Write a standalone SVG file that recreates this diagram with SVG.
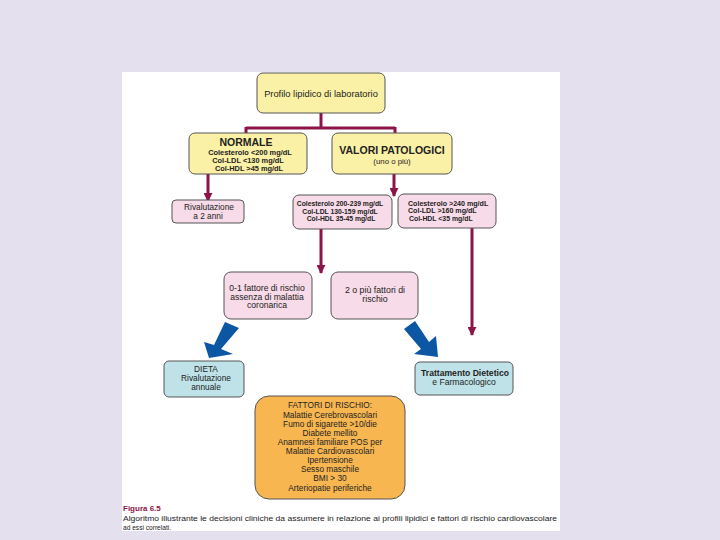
<svg xmlns="http://www.w3.org/2000/svg" width="720" height="540" viewBox="0 0 720 540">
<defs>
<style>
.b{stroke:#555;stroke-width:1}
.y{fill:#fbf1a6}
.p{fill:#f8dbe8}
.c{fill:#bfe2e8}
.o{fill:#f8b651}
text{font-family:"Liberation Sans",Arial,sans-serif;fill:#222;text-anchor:middle}
.s{font-size:8.3px}
.t{font-size:7.8px;font-weight:bold}
.h{font-size:10.5px;font-weight:bold}
.con{stroke:#8c1449;stroke-width:3;fill:none}
</style>
<marker id="ah" viewBox="0 0 10 10" refX="9" refY="5" markerWidth="3" markerHeight="3" orient="auto" markerUnits="strokeWidth">
<path d="M0,0 L10,5 L0,10 z" fill="#8c1449"/>
</marker>
</defs>
<rect width="720" height="540" fill="#e5e0ed"/>
<rect x="122" y="72" width="438" height="459" fill="#ffffff"/>

<g id="connectors">
<path class="con" d="M321,113 V128 M246,128 H395 M246,127 V134 M395,127 V134"/>
<path class="con" d="M208,174 V201" marker-end="url(#ah)"/>
<path class="con" d="M394,174 V196" marker-end="url(#ah)"/>
<path class="con" d="M321,229 V273" marker-end="url(#ah)"/>
<path class="con" d="M472,228 V335" marker-end="url(#ah)"/>
<polygon fill="#0b57a4" points="225,322 239,328 221,349 233,354 209,358 204,342 214,345"/>
<polygon fill="#0b57a4" points="404,329 415,321 429,342 436,336 438,357 414,354 421,349"/>
</g>

<g id="n-profilo">
<rect class="b y" x="257" y="73" width="128" height="40" rx="6"/>
<text x="321" y="97" style="font-size:9.3px">Profilo lipidico di laboratorio</text>
</g>

<g id="n-normale">
<rect class="b y" x="189" y="133" width="118" height="41" rx="6"/>
<text class="h" x="246" y="146">NORMALE</text>
<text class="t" x="250" y="155" style="font-size:7.4px">Colesterolo &lt;200 mg/dL</text>
<text class="t" x="248" y="163" style="font-size:7.4px">Col-LDL &lt;130 mg/dL</text>
<text class="t" x="249" y="171" style="font-size:7.4px">Col-HDL &gt;45 mg/dL</text>
</g>

<g id="n-valori">
<rect class="b y" x="332" y="133" width="120" height="41" rx="6"/>
<text class="h" x="392" y="154">VALORI PATOLOGICI</text>
<text x="392" y="163.5" style="font-size:7.8px">(uno o più)</text>
</g>

<g id="n-rival2">
<rect class="b p" x="172" y="200" width="72" height="23" rx="4"/>
<text class="s" x="209" y="210">Rivalutazione</text>
<text class="s" x="208" y="218.5">a 2 anni</text>
</g>

<g id="n-border">
<rect class="b p" x="293" y="195" width="99" height="34" rx="6"/>
<text class="t" x="340" y="206" style="font-size:6.8px">Colesterolo 200-239 mg/dL</text>
<text class="t" x="340" y="213.7" style="font-size:6.8px">Col-LDL 130-159 mg/dL</text>
<text class="t" x="341" y="221.4" style="font-size:6.8px">Col-HDL 35-45 mg/dL</text>
</g>

<g id="n-alto">
<rect class="b p" x="398" y="194" width="98" height="34" rx="6"/>
<text class="t" x="408" y="205.5" style="font-size:7.1px;text-anchor:start">Colesterolo &gt;240 mg/dL</text>
<text class="t" x="408" y="213.3" style="font-size:7.1px;text-anchor:start">Col-LDL &gt;160 mg/dL</text>
<text class="t" x="409" y="221.1" style="font-size:6.9px;text-anchor:start">Col-HDL &lt;35 mg/dL</text>
</g>

<g id="n-01">
<rect class="b p" x="224" y="272" width="88" height="47" rx="7"/>
<text x="267" y="291" style="font-size:8.6px">0-1 fattore di rischio</text>
<text x="267" y="299.5" style="font-size:8.6px">assenza di malattia</text>
<text x="267" y="308" style="font-size:8.6px">coronarica</text>
</g>

<g id="n-2">
<rect class="b p" x="331" y="272" width="87" height="47" rx="7"/>
<text x="375" y="293" style="font-size:8.8px">2 o più fattori di</text>
<text x="375" y="301.5" style="font-size:8.8px">rischio</text>
</g>

<g id="n-dieta">
<rect class="b c" x="164" y="361" width="80" height="36" rx="5"/>
<text class="s" x="206" y="372">DIETA</text>
<text class="s" x="206" y="381">Rivalutazione</text>
<text class="s" x="206" y="390">annuale</text>
</g>

<g id="n-tratt">
<rect class="b c" x="415" y="362" width="98" height="33" rx="5"/>
<text x="465" y="376" style="font-size:8.6px;font-weight:bold">Trattamento Dietetico</text>
<text x="464" y="385" style="font-size:8.6px">e Farmacologico</text>
</g>

<g id="n-fattori">
<rect class="b o" x="255" y="396" width="150" height="103" rx="14"/>
<text class="s" x="330" y="408">FATTORI DI RISCHIO:</text>
<text class="s" x="330" y="417.5">Malattie Cerebrovascolari</text>
<text class="s" x="330" y="426.5">Fumo di sigarette &gt;10/die</text>
<text class="s" x="330" y="435.5">Diabete mellito</text>
<text class="s" x="330" y="444.5">Anamnesi familiare POS per</text>
<text class="s" x="330" y="453.5">Malattie Cardiovascolari</text>
<text class="s" x="330" y="462.5">Ipertensione</text>
<text class="s" x="330" y="471.5">Sesso maschile</text>
<text class="s" x="330" y="481">BMI &gt; 30</text>
<text class="s" x="330" y="490.5">Arteriopatie periferiche</text>
</g>

<text x="123" y="511" style="text-anchor:start;font-size:8px;font-weight:bold;fill:#8c1449">Figura 6.5</text>
<text x="123" y="521" style="text-anchor:start;font-size:6.6px" textLength="434" lengthAdjust="spacingAndGlyphs">Algoritmo illustrante le decisioni cliniche da assumere in relazione ai profili lipidici e fattori di rischio cardiovascolare</text>
<text x="123" y="529.5" style="text-anchor:start;font-size:6.6px">ad essi correlati.</text>
</svg>
